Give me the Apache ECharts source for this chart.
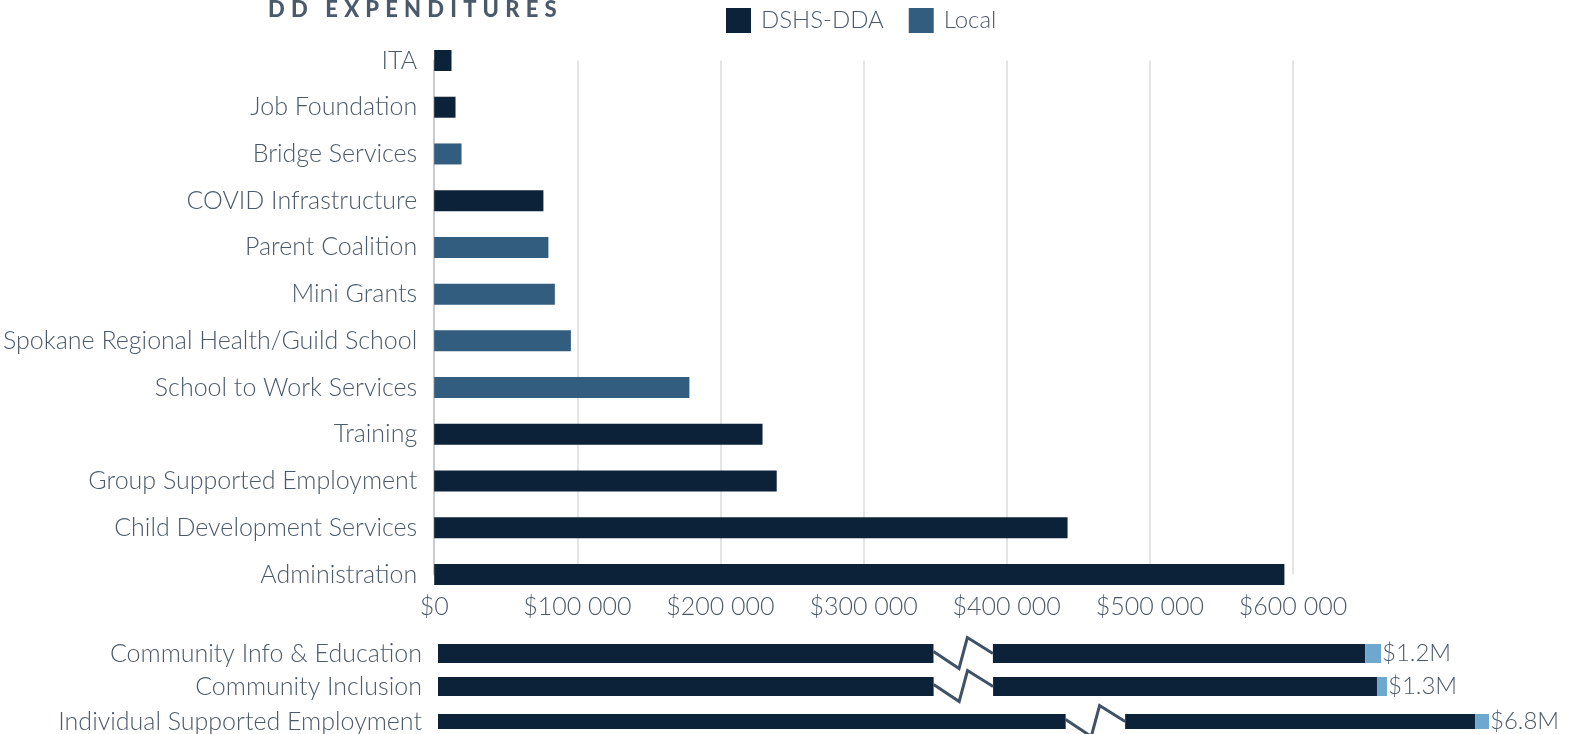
<!DOCTYPE html>
<html><head><meta charset="utf-8">
<script src="https://cdn.jsdelivr.net/npm/echarts@6.0.0/dist/echarts.min.js"></script>
<style>
html,body{margin:0;padding:0;background:#fff;overflow:hidden}
#wrap{position:relative;width:1575px;height:734px}
#chart{width:1575px;height:734px}
#title{position:absolute;left:268px;top:-5px;font-family:Lato;font-weight:900;font-size:22px;letter-spacing:6.2px;color:#4b5a6b;white-space:nowrap}
</style>
</head><body>
<div id="wrap">
<div id="chart"></div>
<div id="title">DD EXPENDITURES</div>
</div>
<script>
// ---- data ----
const categories = ['ITA','Job Foundation','Bridge Services','COVID Infrastructure','Parent Coalition','Mini Grants','Spokane Regional Health/Guild School','School to Work Services','Training','Group Supported Employment','Child Development Services','Administration'];
const dshsValues = [12100, 14900, null, 76300, null, null, null, null, 229400, 239300, 442500, 594000];
const localValues = [null, null, 19100, null, 79800, 84300, 95500, 178300, null, null, null, null];
const xTicks = [0, 100000, 200000, 300000, 400000, 500000, 600000];

const bigCategories = ['Community Info & Education','Community Inclusion','Individual Supported Employment'];
const bigDshs = [1189000, 1293000, 6790400];
const bigLocal = [11000, 7000, 9600];
const bigBreaks = [[346000, 929000], [346000, 1025000], [438000, 6546100]];

// ---- styles ----
const DARK = '#0b2239', LOCAL = '#335d7e', LIGHT = '#6fa8cf', TEXT = '#4b5a6b';
const FONT = 'Lato', FS = 25, FW = 300;

function money(v){ return '$' + String(v).replace(/\B(?=(\d{3})+(?!\d))/g, ' '); }

const grids = [{ left: 434, right: 282, top: 60.5, height: 514 }];
const xAxes = [{
  type: 'value', gridIndex: 0, min: xTicks[0], max: xTicks[xTicks.length-1], interval: xTicks[1]-xTicks[0],
  axisLine: { show: false }, axisTick: { show: false },
  splitLine: { lineStyle: { color: '#dcdde0', width: 1.5 } },
  axisLabel: { color: TEXT, fontSize: FS, fontWeight: FW, fontFamily: FONT, margin: 20, formatter: money }
}];
const yAxes = [{
  type: 'category', gridIndex: 0, data: categories, inverse: true, boundaryGap: false,
  axisLine: { lineStyle: { color: '#c9cdd3', width: 2 } }, axisTick: { show: false },
  axisLabel: { color: TEXT, fontSize: FS, fontWeight: FW, fontFamily: FONT, margin: 17 }
}];
const series = [
  { name: 'DSHS-DDA', type: 'bar', stack: 'top', data: dshsValues, barWidth: 21, itemStyle: { color: DARK }, xAxisIndex: 0, yAxisIndex: 0 },
  { name: 'Local', type: 'bar', stack: 'top', data: localValues, barWidth: 21, itemStyle: { color: LOCAL }, xAxisIndex: 0, yAxisIndex: 0 }
];

const rowTops = [644, 677, 714];
const rowWidths = [943, 949, 1051];
bigCategories.forEach((cat, i) => {
  const gi = i + 1;
  grids.push({ left: 438, top: rowTops[i], width: rowWidths[i], height: 19 });
  xAxes.push({
    type: 'value', gridIndex: gi, min: 0, max: bigDshs[i] + bigLocal[i],
    breaks: [{ start: bigBreaks[i][0], end: bigBreaks[i][1], gap: 41500 }],
    breakArea: { show: false },
    axisLine: { show: false }, axisTick: { show: false }, axisLabel: { show: false }, splitLine: { show: false }
  });
  yAxes.push({
    type: 'category', gridIndex: gi, data: [cat],
    axisLine: { show: false }, axisTick: { show: false },
    axisLabel: { color: TEXT, fontSize: FS, fontWeight: FW, fontFamily: FONT, margin: 16 }
  });
  series.push({ name: 'DSHS-DDA', type: 'bar', stack: 'b' + i, data: [bigDshs[i]], barWidth: 19, itemStyle: { color: DARK }, xAxisIndex: gi, yAxisIndex: gi });
  series.push({ name: 'Local', type: 'bar', stack: 'b' + i, data: [bigLocal[i]], barWidth: 19, itemStyle: { color: LIGHT }, xAxisIndex: gi, yAxisIndex: gi,
    label: { show: true, position: 'right', distance: 1, color: TEXT, fontSize: 24, fontWeight: FW, fontFamily: FONT,
      formatter: () => '$' + ((bigDshs[i] + bigLocal[i]) / 1e6).toFixed(1) + 'M' } });
  series.push({
    type: 'custom', xAxisIndex: gi, yAxisIndex: gi, z: 10, silent: true,
    data: [[bigBreaks[i][0], bigBreaks[i][1], 0]],
    encode: { x: [0, 1], y: 2 },
    renderItem: (params, api) => {
      const a = api.coord([api.value(0), 0]);
      const b = api.coord([api.value(1), 0]);
      const c = a[1], w = b[0] - a[0];
      return { type: 'group', children: [
        { type: 'rect', shape: { x: a[0], y: c - 12, width: w, height: 24 }, style: { fill: '#fff' } },
        { type: 'polyline', shape: { points: [[a[0], c - 2], [a[0] + 0.43 * w, c + 15], [a[0] + 0.57 * w, c - 16], [b[0], c]] },
          style: { stroke: '#3f5266', lineWidth: 3, fill: null } }
      ]};
    }
  });
});

const chart = echarts.init(document.getElementById('chart'), null, { renderer: 'canvas' });
chart.setOption({
  animation: false,
  textStyle: { fontFamily: FONT },
  legend: {
    data: ['DSHS-DDA', 'Local'], left: 721, top: 3, itemWidth: 25, itemHeight: 25, itemGap: 25, icon: 'rect',
    textStyle: { color: TEXT, fontSize: 24, fontWeight: FW, fontFamily: FONT, padding: [0, 0, 0, 5] }
  },
  grid: grids, xAxis: xAxes, yAxis: yAxes, series: series
});
</script>
</body></html>
